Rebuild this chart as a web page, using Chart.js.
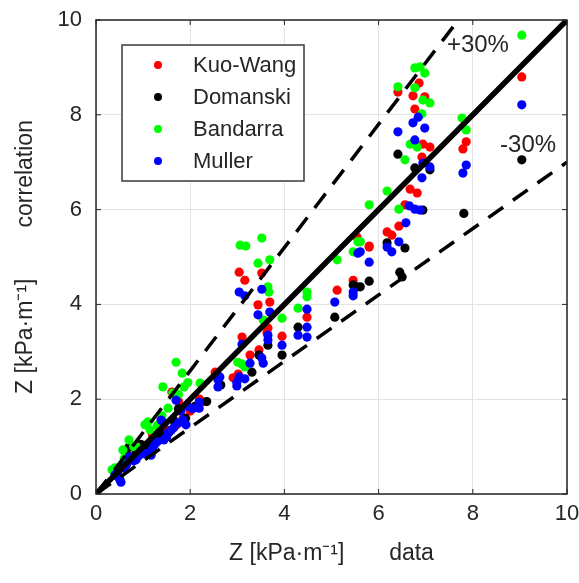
<!DOCTYPE html>
<html>
<head>
<meta charset="utf-8">
<title>Z correlation vs data</title>
<script src="https://cdn.jsdelivr.net/npm/chart.js@4.4.1/dist/chart.umd.min.js"></script>
<style>
  html, body { margin: 0; padding: 0; background: #fff; }
  #wrap { width: 579px; height: 583px; }
</style>
</head>
<body>
<div id="wrap"><canvas id="chartZ" width="579" height="583"></canvas></div>
<script>
// Measured vs correlated pressure-gradient parameter Z [kPa/m], four correlations.
const SERIES_NAMES = ['Kuo-Wang', 'Domanski', 'Bandarra', 'Muller'];
const SERIES_COLORS = ['#ff0000', '#000000', '#00ff00', '#0000ff'];
const AXIS_TICKS = [0, 2, 4, 6, 8, 10];

const kuoWang = [
  [6.41, 8.48], [6.86, 8.67], [6.73, 8.40], [6.98, 8.38], [6.77, 8.12], [7.86, 7.43], [7.79, 7.28],
  [6.94, 7.38], [7.09, 7.32], [6.92, 7.11], [6.67, 6.43], [6.82, 6.35], [6.56, 6.10], [6.43, 5.65],
  [6.18, 5.53], [6.28, 5.46], [5.80, 5.21], [9.04, 8.80],
  [5.54, 5.42], [5.80, 5.23], [5.46, 4.51], [5.12, 4.30], [4.48, 3.73], [3.04, 4.68], [3.16, 4.51],
  [3.52, 4.66], [3.44, 3.99], [3.69, 4.05], [3.65, 3.50], [3.63, 3.40], [3.10, 3.31], [3.95, 3.33],
  [3.46, 3.04], [3.27, 2.93], [3.02, 2.53], [2.91, 2.45], [2.53, 2.57],
  [2.25, 1.94], [1.61, 2.15], [1.85, 1.60], [1.20, 1.25], [0.95, 0.95], [0.75, 0.80], [0.55, 0.55],
  [1.50, 1.35], [2.00, 1.75], [1.70, 1.45], [0.45, 0.45], [0.65, 0.70], [1.10, 1.05], [1.35, 1.40],
  [1.75, 1.95], [2.20, 2.00]
];

const domanski = [
  [6.41, 7.17], [6.77, 6.88], [7.09, 6.84], [6.94, 5.99], [7.81, 5.92], [6.18, 5.30], [6.56, 5.19],
  [6.45, 4.68], [6.50, 4.58], [5.80, 4.49], [5.61, 4.37], [9.04, 7.05],
  [5.46, 4.41], [5.54, 4.37], [5.07, 3.73], [4.29, 3.52], [3.65, 3.14], [3.95, 2.93], [3.46, 2.93],
  [3.31, 2.57],
  [0.70, 0.99], [0.64, 0.86], [0.75, 0.75], [1.05, 0.92], [1.55, 1.30], [1.90, 1.60], [2.35, 1.95],
  [1.30, 1.20], [2.65, 2.30], [0.45, 0.50], [0.55, 0.60], [0.85, 0.85], [1.15, 1.05], [1.40, 1.25],
  [1.65, 1.55], [1.75, 1.80], [2.10, 1.85], [0.95, 1.05]
];

const bandarra = [
  [6.77, 8.99], [6.88, 9.01], [6.98, 8.88], [6.41, 8.59], [6.77, 8.57], [6.94, 8.31], [7.09, 8.25],
  [6.92, 8.02], [7.77, 7.93], [7.86, 7.68], [6.67, 7.38], [6.82, 7.32], [6.56, 7.05], [6.18, 6.39],
  [5.80, 6.10], [6.43, 6.01], [5.61, 5.32], [9.04, 9.68],
  [5.56, 5.32], [5.46, 5.11], [5.12, 4.94], [4.48, 4.26], [4.48, 4.16], [4.29, 3.92], [3.06, 5.25],
  [3.18, 5.23], [3.52, 5.40], [3.44, 4.87], [3.69, 4.94], [3.65, 4.37], [3.67, 4.26], [3.95, 3.71],
  [3.55, 3.67], [3.10, 2.74], [3.16, 2.68], [3.01, 2.78], [2.21, 2.34],
  [1.70, 2.78], [1.83, 2.55], [1.42, 2.26], [1.87, 2.26], [1.63, 2.13], [1.53, 1.81], [1.10, 1.52],
  [1.04, 1.46], [0.70, 1.14], [0.57, 0.93], [0.34, 0.51], [0.85, 1.00], [1.30, 1.45],
  [0.40, 0.55], [0.60, 0.75], [0.80, 1.00], [1.15, 1.35], [1.40, 1.65], [1.75, 2.10], [1.95, 2.35]
];

const muller = [
  [6.84, 7.95], [6.73, 7.83], [6.98, 7.72], [6.41, 7.64], [7.86, 6.94], [7.79, 6.77], [6.77, 7.47],
  [6.94, 6.98], [7.09, 6.90], [6.92, 6.67], [6.65, 6.08], [6.77, 6.01], [6.88, 5.99], [6.58, 5.72],
  [6.18, 5.21], [6.28, 5.11], [6.43, 5.32], [5.61, 5.11], [5.80, 4.89], [9.04, 8.21],
  [5.56, 5.08], [5.07, 4.05], [5.46, 4.26], [5.46, 4.18], [4.48, 3.90], [4.48, 3.52], [4.48, 3.31],
  [4.29, 3.35], [3.04, 4.26], [3.16, 4.18], [3.52, 4.32], [3.44, 3.78], [3.69, 3.84], [3.65, 3.35],
  [3.65, 3.25], [3.10, 3.16], [3.95, 3.14], [3.52, 2.87], [3.55, 2.76], [3.27, 2.76], [3.04, 2.47],
  [3.16, 2.43], [2.99, 2.28], [2.63, 2.47], [2.99, 2.36], [2.59, 2.41], [2.59, 2.26],
  [1.70, 1.98], [2.19, 1.81], [2.19, 1.94], [1.38, 1.56], [1.44, 1.50], [1.85, 1.56], [1.91, 1.46],
  [1.53, 1.29], [1.44, 1.14], [1.60, 1.35], [1.10, 0.86], [1.17, 0.82], [0.70, 0.78], [0.85, 0.72],
  [0.49, 0.34], [0.53, 0.25], [0.51, 0.30], [0.95, 0.90], [1.25, 1.05], [0.60, 0.55],
  [0.40, 0.40], [0.45, 0.45], [0.65, 0.62], [0.80, 0.70], [0.90, 0.80], [1.00, 0.85], [1.20, 0.95],
  [1.30, 1.10], [1.50, 1.20], [1.65, 1.40], [1.75, 1.50], [2.05, 1.80], [1.80, 1.75], [1.95, 1.85]
];

// reference lines: perfect agreement and the +/-30 % band
const PERFECT_LINE = [[0, 0], [10, 10]];
const PLUS_30_LINE = [[0, 0], [10 / 1.3, 10]];
const MINUS_30_LINE = [[0, 0], [10, 7]];
const BAND_LABELS = [
  { text: '+30%', x: 7.45, y: 9.47 },
  { text: '-30%', x: 8.58, y: 7.35 }
];

const FONT = "'Liberation Sans', Arial, sans-serif";
const INK = '#262626';
const GRID = '#e3e3e3';

const toXY = (pts) => pts.map(([x, y]) => ({ x, y }));

function pointSet(label, pts, color, order) {
  return {
    label,
    data: toXY(pts),
    backgroundColor: color,
    borderColor: color,
    pointRadius: 4.6,
    pointBorderWidth: 0,
    showLine: false,
    order
  };
}

function lineSet(pts, width, dash) {
  return {
    label: '',
    data: toXY(pts),
    showLine: true,
    borderColor: '#000',
    borderWidth: width,
    borderDash: dash,
    borderCapStyle: 'butt',
    pointRadius: 0,
    fill: false,
    order: 0
  };
}

const seriesData = [kuoWang, domanski, bandarra, muller];

// frame, inward tick marks, band labels and the boxed legend
const decorations = {
  id: 'decorations',
  afterDatasetsDraw(chart) {
    const { ctx, chartArea: a, scales: { x, y } } = chart;
    ctx.save();

    ctx.strokeStyle = INK;
    ctx.lineWidth = 1.5;
    ctx.strokeRect(a.left, a.top, a.right - a.left, a.bottom - a.top);

    ctx.lineWidth = 1;
    AXIS_TICKS.forEach((v) => {
      const px = x.getPixelForValue(v);
      const py = y.getPixelForValue(v);
      ctx.beginPath();
      ctx.moveTo(px, a.bottom); ctx.lineTo(px, a.bottom - 5);
      ctx.moveTo(px, a.top); ctx.lineTo(px, a.top + 5);
      ctx.moveTo(a.left, py); ctx.lineTo(a.left + 5, py);
      ctx.moveTo(a.right, py); ctx.lineTo(a.right - 5, py);
      ctx.stroke();
    });

    ctx.fillStyle = INK;
    ctx.font = '24px ' + FONT;
    ctx.textBaseline = 'middle';
    ctx.textAlign = 'left';
    BAND_LABELS.forEach((l) => {
      ctx.fillText(l.text, x.getPixelForValue(l.x), y.getPixelForValue(l.y));
    });

    // legend
    const lx = 122, ly = 45, lw = 182, lh = 136;
    ctx.fillStyle = '#fff';
    ctx.fillRect(lx, ly, lw, lh);
    ctx.strokeStyle = '#3a3a3a';
    ctx.lineWidth = 1.5;
    ctx.strokeRect(lx, ly, lw, lh);
    ctx.font = '22px ' + FONT;
    SERIES_NAMES.forEach((name, i) => {
      const rowY = 65 + i * 32;
      ctx.fillStyle = SERIES_COLORS[i];
      ctx.beginPath();
      ctx.arc(158, rowY, 4, 0, Math.PI * 2);
      ctx.fill();
      ctx.fillStyle = INK;
      ctx.fillText(name, 193, rowY + 1);
    });

    ctx.restore();
  }
};

new Chart(document.getElementById('chartZ'), {
  type: 'scatter',
  data: {
    datasets: [
      lineSet(PERFECT_LINE, 5.5, []),
      lineSet(PLUS_30_LINE, 3.5, [18, 12]),
      lineSet(MINUS_30_LINE, 3.5, [18, 12]),
      // Kuo-Wang drawn first, Muller last (on top)
      ...seriesData.map((pts, i) => pointSet(SERIES_NAMES[i], pts, SERIES_COLORS[i], 4 - i))
    ]
  },
  options: {
    responsive: false,
    animation: false,
    layout: { padding: { top: 20, right: 12, left: 0, bottom: 0 } },
    plugins: { legend: { display: false }, tooltip: { enabled: false } },
    scales: {
      x: {
        type: 'linear',
        min: 0,
        max: 10,
        afterFit: (s) => { s.height = 89; s.paddingLeft = 0; s.paddingRight = 0; },
        afterBuildTicks: (s) => { s.ticks = AXIS_TICKS.map((v) => ({ value: v })); },
        ticks: { color: INK, font: { family: FONT, size: 22 }, padding: 7, maxRotation: 0 },
        grid: { color: GRID, drawTicks: false },
        border: { display: false },
        title: {
          display: true,
          text: 'Z [kPa·m⁻¹]       data',
          color: INK,
          font: { family: FONT, size: 23 },
          padding: { top: 0, bottom: 16 }
        }
      },
      y: {
        type: 'linear',
        min: 0,
        max: 10,
        afterFit: (s) => { s.width = 96; s.paddingTop = 0; s.paddingBottom = 0; },
        afterBuildTicks: (s) => { s.ticks = AXIS_TICKS.map((v) => ({ value: v })); },
        ticks: { color: INK, font: { family: FONT, size: 22 }, padding: 14 },
        grid: { color: GRID, drawTicks: false },
        border: { display: false },
        title: {
          display: true,
          text: 'Z [kPa·m⁻¹]        correlation',
          color: INK,
          font: { family: FONT, size: 23 },
          padding: { top: 12, bottom: 0 }
        }
      }
    }
  },
  plugins: [decorations]
});
</script>
</body>
</html>
